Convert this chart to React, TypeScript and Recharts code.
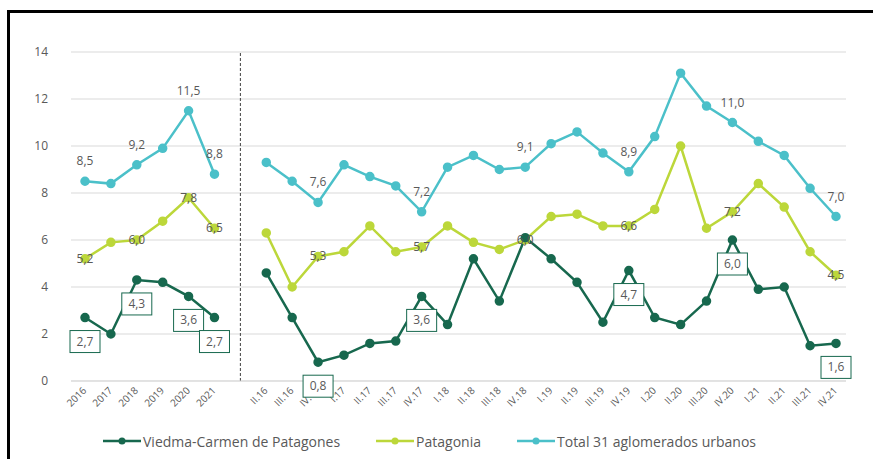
import {
  CartesianGrid,
  LabelList,
  Legend,
  Line,
  LineChart,
  ReferenceLine,
  XAxis,
  YAxis,
} from "recharts";

const annualLabels = ["2016", "2017", "2018", "2019", "2020", "2021"];
const quarterLabels = [
  "II.16", "III.16", "IV.16", "I.17", "II.17", "III.17", "IV.17", "I.18", "II.18", "III.18",
  "IV.18", "I.19", "II.19", "III.19", "IV.19", "I.20", "II.20", "III.20", "IV.20", "I.21",
  "II.21", "III.21", "IV.21",
];
const GAP = " ";

const viedmaAnnual = [2.7, 2.0, 4.3, 4.2, 3.6, 2.7];
const viedmaQuarter = [
  4.6, 2.7, 0.8, 1.1, 1.6, 1.7, 3.6, 2.4, 5.2, 3.4, 6.1, 5.2, 4.2, 2.5, 4.7, 2.7, 2.4, 3.4, 6.0,
  3.9, 4.0, 1.5, 1.6,
];
const patagoniaAnnual = [5.2, 5.9, 6.0, 6.8, 7.8, 6.5];
const patagoniaQuarter = [
  6.3, 4.0, 5.3, 5.5, 6.6, 5.5, 5.7, 6.6, 5.9, 5.6, 6.0, 7.0, 7.1, 6.6, 6.6, 7.3, 10.0, 6.5, 7.2,
  8.4, 7.4, 5.5, 4.5,
];
const totalAnnual = [8.5, 8.4, 9.2, 9.9, 11.5, 8.8];
const totalQuarter = [
  9.3, 8.5, 7.6, 9.2, 8.7, 8.3, 7.2, 9.1, 9.6, 9.0, 9.1, 10.1, 10.6, 9.7, 8.9, 10.4, 13.1, 11.7,
  11.0, 10.2, 9.6, 8.2, 7.0,
];

const viedmaLabeled = ["2016", "2018", "2020", "2021", "IV.16", "IV.17", "IV.19", "IV.20", "IV.21"];
const otherLabeled = ["2016", "2018", "2020", "2021", "IV.16", "IV.17", "IV.18", "IV.19", "IV.20", "IV.21"];

const yTicks = [0, 2, 4, 6, 8, 10, 12, 14];

const VIEDMA = "#17684e";
const PATAGONIA = "#bcd73a";
const TOTAL = "#4bc0c9";
const TEXT = "#595959";
const FONT = "'Open Sans', sans-serif";

const categories = [...annualLabels, GAP, ...quarterLabels];
const joined = (a: number[], q: number[]) => [...a, null, ...q];
const vAll = joined(viedmaAnnual, viedmaQuarter);
const pAll = joined(patagoniaAnnual, patagoniaQuarter);
const tAll = joined(totalAnnual, totalQuarter);

const data = categories.map((name, i) => ({
  name,
  viedma: vAll[i],
  patagonia: pAll[i],
  total: tAll[i],
}));

const fmt = (v: number) => v.toFixed(1).replace(".", ",");

const AngledTick = ({ x, y, payload }: any) => (
  <g transform={`translate(${x},${y})`}>
    <text
      x={0}
      y={0}
      dy={3}
      textAnchor="end"
      fill={TEXT}
      fontSize={10}
      fontFamily={FONT}
      transform="rotate(-45)"
    >
      {payload.value}
    </text>
  </g>
);

const boxLabel = (props: any) => {
  const { x, y, value, index } = props;
  if (value == null || !viedmaLabeled.includes(categories[index])) return null;
  const cy = y + 24;
  return (
    <g>
      <rect x={x - 15} y={cy - 11} width={30} height={22} fill="#fff" stroke={VIEDMA} strokeWidth={1} />
      <text x={x} y={cy} dy={4} textAnchor="middle" fill={TEXT} fontSize={12} fontFamily={FONT}>
        {fmt(value)}
      </text>
    </g>
  );
};

const centerLabel = (props: any) => {
  const { x, y, value, index } = props;
  if (value == null || !otherLabeled.includes(categories[index])) return null;
  return (
    <text x={x} y={y} dy={4} textAnchor="middle" fill={TEXT} fontSize={12} fontFamily={FONT}>
      {fmt(value)}
    </text>
  );
};

const aboveLabel = (props: any) => {
  const { x, y, value, index } = props;
  if (value == null || !otherLabeled.includes(categories[index])) return null;
  return (
    <text x={x} y={y - 20} dy={4} textAnchor="middle" fill={TEXT} fontSize={12} fontFamily={FONT}>
      {fmt(value)}
    </text>
  );
};

const legendItems = [
  { label: "Viedma-Carmen de Patagones", color: VIEDMA },
  { label: "Patagonia", color: PATAGONIA },
  { label: "Total 31 aglomerados urbanos", color: TOTAL },
];

const LegendContent = () => (
  <div
    style={{
      display: "flex",
      alignItems: "center",
      height: 20,
      paddingLeft: 103,
      fontFamily: FONT,
      fontSize: 14,
      color: TEXT,
      gap: 36,
    }}
  >
    {legendItems.map((it) => (
      <div key={it.label} style={{ display: "flex", alignItems: "center" }}>
        <svg width={38} height={10}>
          <line x1={0} y1={5} x2={38} y2={5} stroke={it.color} strokeWidth={2.5} />
          <circle cx={19} cy={5} r={3.5} fill={it.color} />
        </svg>
        <span style={{ marginLeft: 2 }}>{it.label}</span>
      </div>
    ))}
  </div>
);

export default function App() {
  return (
    <div
      style={{
        position: "absolute",
        left: 0,
        top: 0,
        width: 873,
        height: 459,
        overflow: "hidden",
        background: "#fff",
      }}
    >
      <div
        style={{
          position: "absolute",
          left: 7,
          top: 10,
          width: 900,
          height: 500,
          border: "3px solid #000",
          boxSizing: "border-box",
        }}
      />
      <LineChart
        width={873}
        height={459}
        data={data}
        margin={{ top: 52, right: 27, bottom: 8, left: 11 }}
        style={{ position: "absolute", left: 0, top: 0 }}
      >
        <CartesianGrid vertical={false} stroke="#d9d9d9" />
        <XAxis
          dataKey="name"
          interval={0}
          tickLine={false}
          axisLine={{ stroke: "#d9d9d9" }}
          padding={{ left: 14, right: 10 }}
          height={50}
          tick={<AngledTick />}
        />
        <YAxis
          width={60}
          domain={[0, 14]}
          ticks={yTicks}
          tickLine={false}
          axisLine={false}
          tickMargin={17}
          tick={{ fill: TEXT, fontSize: 12, fontFamily: FONT }}
        />
        <ReferenceLine x={GAP} stroke="#404040" strokeDasharray="3 2" />
        <Legend
          verticalAlign="bottom"
          wrapperStyle={{ left: 0, width: 873 }}
          content={<LegendContent />}
        />
        <Line
          dataKey="total"
          stroke={TOTAL}
          strokeWidth={2.5}
          dot={{ r: 3.5, fill: TOTAL, stroke: TOTAL }}
          isAnimationActive={false}
        >
          <LabelList dataKey="total" content={aboveLabel} />
        </Line>
        <Line
          dataKey="patagonia"
          stroke={PATAGONIA}
          strokeWidth={2.5}
          dot={{ r: 3.5, fill: PATAGONIA, stroke: PATAGONIA }}
          isAnimationActive={false}
        >
          <LabelList dataKey="patagonia" content={centerLabel} />
        </Line>
        <Line
          dataKey="viedma"
          stroke={VIEDMA}
          strokeWidth={2.5}
          dot={{ r: 3.5, fill: VIEDMA, stroke: VIEDMA }}
          isAnimationActive={false}
        >
          <LabelList dataKey="viedma" content={boxLabel} />
        </Line>
      </LineChart>
    </div>
  );
}
